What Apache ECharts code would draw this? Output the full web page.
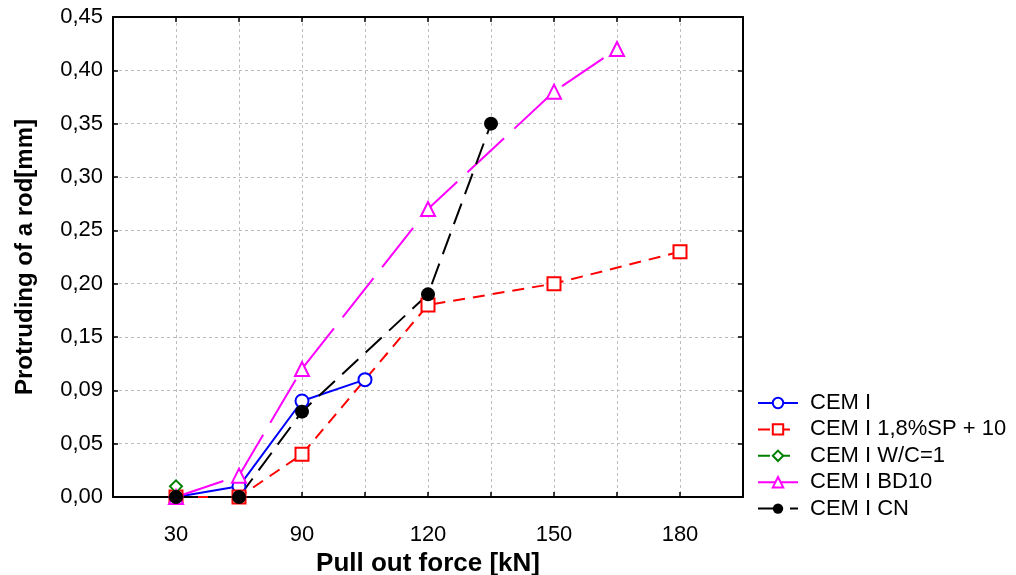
<!DOCTYPE html>
<html>
<head>
<meta charset="utf-8">
<script src="https://cdn.jsdelivr.net/npm/echarts@6/dist/echarts.min.js"></script>
<style>html,body{margin:0;padding:0;background:#fff;}#c{width:1016px;height:575px;}</style>
</head>
<body>
<div id="c"></div>
<script>
// x positions are category slots 0..8
const xTickLabels = ['30', '', '90', '', '120', '', '150', '', '180'];
const yTickLabels = ['0,00', '0,05', '0,09', '0,15', '0,20', '0,25', '0,30', '0,35', '0,40', '0,45'];
const seriesNames = ['CEM I', 'CEM I 1,8%SP + 10', 'CEM I W/C=1', 'CEM I BD10', 'CEM I CN'];
const cemI    = [0.00, 0.01, 0.09, 0.11];
const cemSP   = [0.00, 0.00, 0.04, null, 0.18, null, 0.20, null, 0.23];
const cemWC   = [0.01];
const cemBD10 = [0.00, 0.02, 0.12, null, 0.27, null, 0.38, 0.42];
const cemCN   = [0.00, 0.00, 0.08, null, 0.19, 0.35];

function pairs(arr) {
  const out = [];
  arr.forEach((v, i) => { if (v !== null && v !== undefined) out.push([i, v]); });
  return out;
}

const FONT = 'Liberation Sans, Arial, Helvetica, sans-serif';
const chart = echarts.init(document.getElementById('c'), null, { renderer: 'canvas' });

const axisLine = { show: true, onZero: false, lineStyle: { color: '#000', width: 2 } };
const axisTick = { show: true, inside: true, length: 5, lineStyle: { color: '#000', width: 1.5 } };
const grid = { type: [3, 3], color: '#bdbdbd', width: 1 };

chart.setOption({
  animation: false,
  backgroundColor: '#fff',
  grid: { left: 113, right: 273, top: 17, bottom: 78, containLabel: false, outerBoundsMode: 'none' },
  xAxis: [
    {
      type: 'value', position: 'bottom', min: -1, max: 9, interval: 1,
      axisLine: axisLine, axisTick: axisTick,
      splitLine: { show: true, lineStyle: grid },
      axisLabel: {
        margin: 27, fontSize: 22, color: '#000', fontFamily: FONT,
        formatter: v => (v >= 0 && v < xTickLabels.length) ? xTickLabels[v] : ''
      },
      name: 'Pull out force [kN]', nameLocation: 'middle', nameGap: 48,
      nameTextStyle: { fontSize: 26, fontWeight: 'bold', color: '#000', fontFamily: FONT }
    },
    {
      type: 'value', position: 'top', min: -1, max: 9, interval: 1,
      axisLine: axisLine, axisTick: axisTick, splitLine: { show: false },
      axisLabel: { show: false }
    }
  ],
  yAxis: [
    {
      type: 'value', position: 'left', min: 0, max: 0.45, interval: 0.05,
      axisLine: axisLine, axisTick: axisTick,
      splitLine: { show: true, lineStyle: grid },
      axisLabel: {
        margin: 10, fontSize: 22, color: '#000', fontFamily: FONT,
        formatter: v => yTickLabels[Math.round(v / 0.05)]
      },
      name: 'Protruding of a rod[mm]', nameLocation: 'middle', nameGap: 76,
      nameTextStyle: { fontSize: 24, fontWeight: 'bold', color: '#000', fontFamily: FONT }
    },
    {
      type: 'value', position: 'right', min: 0, max: 0.45, interval: 0.05,
      axisLine: axisLine, axisTick: axisTick, splitLine: { show: false },
      axisLabel: { show: false }
    }
  ],
  legend: {
    orient: 'vertical', left: 752, top: 387,
    itemWidth: 40, itemHeight: 13, itemGap: 4.4,
    textStyle: { fontSize: 22, color: '#000', fontFamily: FONT, padding: [0, 0, 0, 7] },
    data: seriesNames
  },
  series: [
    {
      name: seriesNames[0], type: 'line', data: pairs(cemI),
      symbol: 'emptyCircle', symbolSize: 13, connectNulls: true,
      itemStyle: { color: '#0000ff', borderWidth: 2 },
      lineStyle: { color: '#0000ff', width: 2, type: 'solid' }
    },
    {
      name: seriesNames[1], type: 'line', data: pairs(cemSP),
      symbol: 'emptyRect', symbolSize: 13, connectNulls: true,
      itemStyle: { color: '#ff0000', borderWidth: 2 },
      lineStyle: { color: '#ff0000', width: 2, type: [12, 8] }
    },
    {
      name: seriesNames[2], type: 'line', data: pairs(cemWC),
      symbol: 'emptyDiamond', symbolSize: 12, connectNulls: true,
      itemStyle: { color: '#008000', borderWidth: 1.5 },
      lineStyle: { color: '#008000', width: 2, type: [12, 8] }
    },
    {
      name: seriesNames[3], type: 'line', data: pairs(cemBD10),
      symbol: 'emptyTriangle', symbolSize: 14, connectNulls: true,
      itemStyle: { color: '#ff00ff', borderWidth: 1.5 },
      lineStyle: { color: '#ff00ff', width: 2, type: [50, 14] }
    },
    {
      name: seriesNames[4], type: 'line', data: pairs(cemCN),
      symbol: 'circle', symbolSize: 14, connectNulls: true,
      itemStyle: { color: '#000000' },
      lineStyle: { color: '#000000', width: 2, type: [22, 10] }
    }
  ]
});
</script>
</body>
</html>
